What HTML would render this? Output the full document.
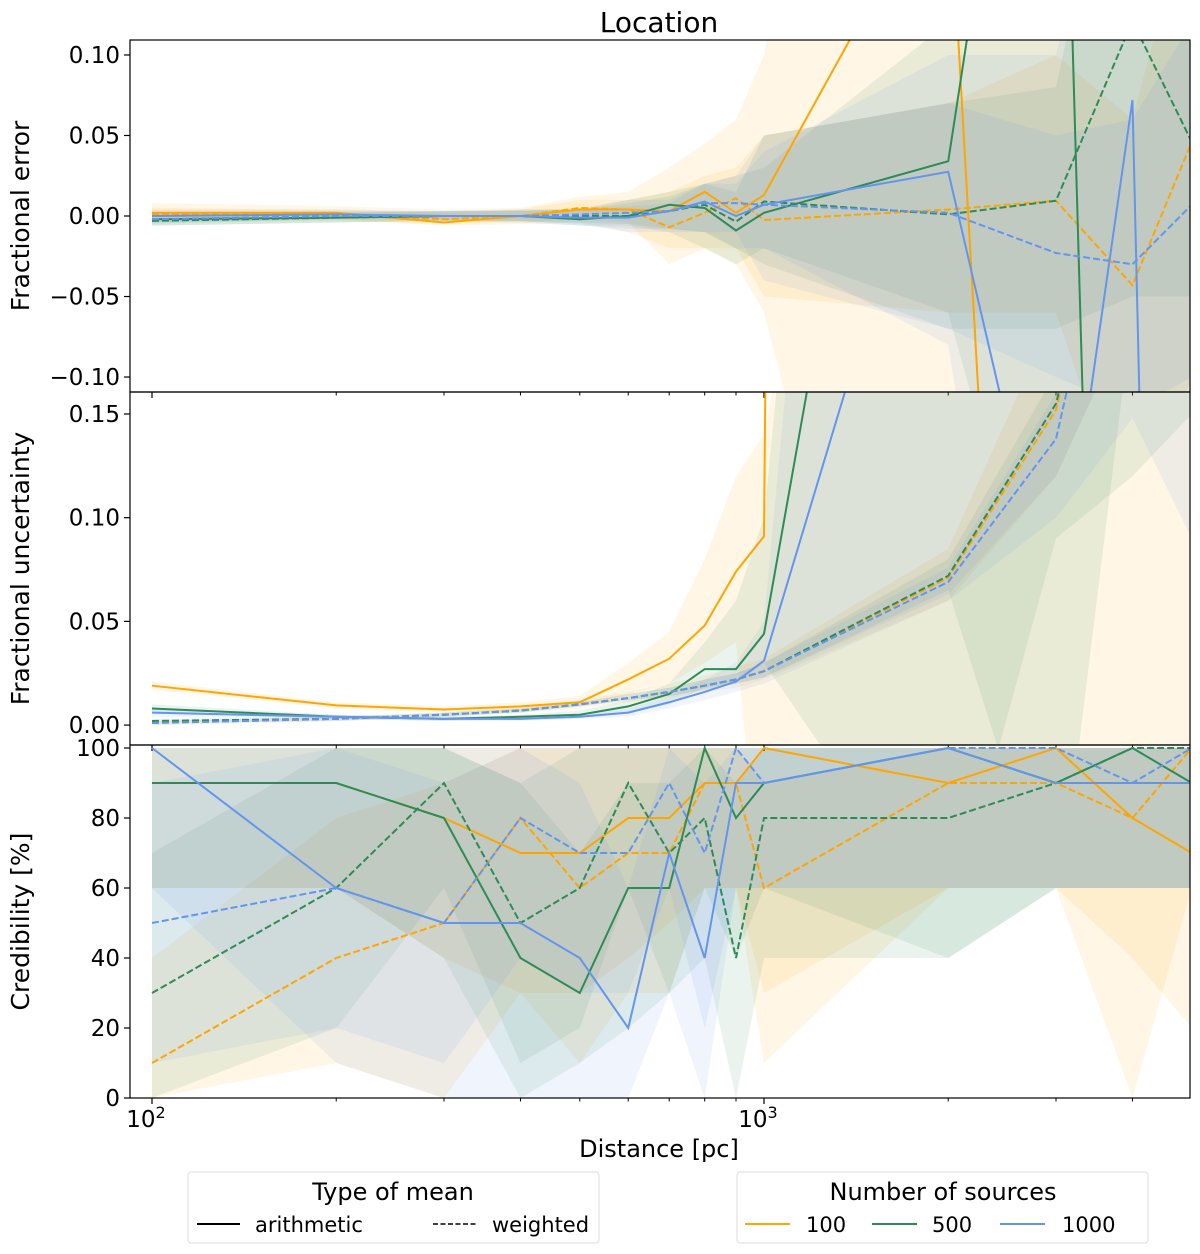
<!DOCTYPE html>
<html><head><meta charset="utf-8"><style>
html,body{margin:0;padding:0;background:#fff;width:1200px;height:1254px;overflow:hidden;}
svg{display:block;font-family:"DejaVu Sans","Liberation Sans",sans-serif;}
</style></head><body>
<svg id="chart" width="1200" height="1254" viewBox="0 0 1200 1254" xmlns="http://www.w3.org/2000/svg">
<text x="659" y="32" font-size="28" text-anchor="middle">Location</text>
<g id="panels"></g>
<text x="659" y="1157" font-size="24" text-anchor="middle">Distance [pc]</text>
<g>
<rect x="188" y="1172" width="411" height="71" fill="#fff" stroke="#ddd" rx="3"/>
<text x="393" y="1200" font-size="24" text-anchor="middle">Type of mean</text>
<line x1="197" y1="1224" x2="240" y2="1224" stroke="#000" stroke-width="2"/>
<text x="255" y="1232" font-size="21">arithmetic</text>
<line x1="433" y1="1224" x2="477" y2="1224" stroke="#000" stroke-width="1.5" stroke-dasharray="5,2.5"/>
<text x="492" y="1232" font-size="21">weighted</text>
</g>
<g>
<rect x="737" y="1172" width="411" height="71" fill="#fff" stroke="#ddd" rx="3"/>
<text x="943" y="1200" font-size="24" text-anchor="middle">Number of sources</text>
<line x1="745" y1="1224" x2="790" y2="1224" stroke="orange" stroke-width="2"/>
<text x="806" y="1232" font-size="21">100</text>
<line x1="872" y1="1224" x2="917" y2="1224" stroke="seagreen" stroke-width="2"/>
<text x="932" y="1232" font-size="21">500</text>
<line x1="1000" y1="1224" x2="1045" y2="1224" stroke="cornflowerblue" stroke-width="2"/>
<text x="1062" y="1232" font-size="21">1000</text>
</g>
</svg>
<script>
const distances=[100,200,300,400,500,600,700,800,900,1000,2000,3000,4000,5000];
// Panel 1: fractional error
const errOrangeA=[0.002,0.002,-0.004,0.000,0.004,0.004,0.003,0.015,0.002,0.013,0.22,-0.96,-0.96,-0.96];
const errOrangeW=[0.001,0.001,-0.002,0.000,0.005,0.004,-0.007,0.002,0.011,-0.0025,0.004,0.0095,-0.043,0.046];
const errGreenA=[-0.002,-0.001,0.000,0.000,-0.002,0.000,0.007,0.005,-0.009,0.002,0.034,0.47,-1.2,-1.2];
const errGreenW=[-0.003,-0.001,0.000,0.000,0.000,0.000,0.003,0.007,-0.0035,0.009,0.001,0.0095,0.121,0.046];
const errBlueA=[0.000,0.001,0.000,0.000,-0.001,-0.001,0.003,0.009,0.000,0.007,0.0275,-0.26,0.072,-1.5];
const errBlueW=[-0.002,0.000,0.000,0.000,0.001,0.002,0.003,0.008,0.008,0.007,0.002,-0.023,-0.030,0.007];
const errOrangeALo=[-0.004,-0.002,-0.006,-0.005,-0.004,-0.01,-0.02,-0.02,-0.03,-0.06,-0.5,-2,-2,-2];
const errOrangeAHi=[0.008,0.006,0.004,0.005,0.012,0.015,0.03,0.045,0.06,0.1,0.8,2,2,2];
const errOrangeWLo=[-0.004,-0.003,-0.005,-0.004,-0.002,-0.004,-0.03,-0.02,-0.02,-0.05,-0.06,-0.06,-0.2,-0.1];
const errOrangeWHi=[0.005,0.004,0.002,0.004,0.01,0.01,0.015,0.025,0.03,0.05,0.07,0.1,0.06,0.2];
const errGreenALo=[-0.006,-0.004,-0.003,-0.004,-0.006,-0.006,-0.01,-0.02,-0.03,-0.02,-0.06,-0.3,-2,-2];
const errGreenAHi=[0.002,0.003,0.003,0.004,0.004,0.01,0.015,0.02,0.025,0.03,0.12,1,1,1];
const errGreenWLo=[-0.006,-0.004,-0.003,-0.003,-0.004,-0.005,-0.008,-0.01,-0.02,-0.03,-0.07,-0.07,-0.05,-0.05];
const errGreenWHi=[0.001,0.002,0.003,0.003,0.004,0.008,0.012,0.02,0.015,0.05,0.07,0.08,0.3,0.15];
const errBlueALo=[-0.004,-0.002,-0.003,-0.003,-0.006,-0.008,-0.008,-0.01,-0.02,-0.02,-0.08,-0.5,-0.3,-2];
const errBlueAHi=[0.004,0.004,0.003,0.004,0.004,0.006,0.008,0.02,0.02,0.04,0.1,0.1,0.3,0.2];
const errBlueWLo=[-0.005,-0.002,-0.002,-0.003,-0.005,-0.01,-0.01,-0.01,-0.01,-0.04,-0.07,-0.1,-0.12,-0.1];
const errBlueWHi=[0.002,0.002,0.003,0.003,0.005,0.01,0.01,0.02,0.025,0.05,0.07,0.05,0.06,0.12];
// Panel 2: fractional uncertainty
const uncOrangeA=[0.019,0.0095,0.0075,0.009,0.011,0.022,0.032,0.048,0.074,0.091,10,10,10,10];
const uncOrangeW=[0.001,0.003,0.005,0.007,0.010,0.013,0.016,0.019,0.022,0.026,0.071,0.152,0.3,0.5];
const uncGreenA=[0.008,0.004,0.003,0.004,0.005,0.009,0.015,0.027,0.027,0.044,0.545,1,1,1];
const uncGreenW=[0.002,0.003,0.005,0.007,0.010,0.013,0.016,0.019,0.022,0.026,0.072,0.155,0.3,0.5];
const uncBlueA=[0.006,0.004,0.003,0.003,0.004,0.006,0.011,0.016,0.021,0.031,0.326,1,1,1];
const uncBlueW=[0.001,0.003,0.005,0.007,0.010,0.013,0.016,0.019,0.022,0.026,0.069,0.138,0.3,0.5];
const uncOrangeALo=[0.017,0.008,0.006,0.007,0.009,0.015,0.02,0.03,0.04,-0.1,-0.1,-0.1,-0.1,-0.1];
const uncOrangeAHi=[0.021,0.011,0.009,0.011,0.014,0.03,0.045,0.08,0.12,0.14,0.6,1,1,1];
const uncOrangeWLo=[0.0,0.002,0.004,0.006,0.008,0.011,0.013,0.016,0.018,0.022,0.06,0.12,0.2,0.3];
const uncOrangeWHi=[0.002,0.004,0.006,0.009,0.012,0.016,0.02,0.024,0.028,0.032,0.085,0.2,0.5,0.8];
const uncGreenALo=[0.006,0.003,0.002,0.003,0.004,0.006,0.01,0.018,0.02,0.03,-0.1,0.09,0.12,0.15];
const uncGreenAHi=[0.010,0.005,0.004,0.005,0.007,0.012,0.02,0.04,0.06,0.1,1,1,1,1];
const uncGreenWLo=[0.001,0.002,0.004,0.006,0.009,0.012,0.014,0.017,0.02,0.023,0.065,-0.1,0.2,0.3];
const uncGreenWHi=[0.003,0.004,0.006,0.008,0.011,0.015,0.018,0.022,0.025,0.03,0.08,0.17,0.4,0.6];
const uncBlueALo=[0.004,0.003,0.002,0.002,0.003,0.004,0.008,0.012,0.016,0.02,0.06,0.1,0.148,0.09];
const uncBlueAHi=[0.008,0.005,0.004,0.004,0.005,0.008,0.014,0.022,0.03,0.05,1,1,1,1];
const uncBlueWLo=[0.0,0.002,0.004,0.006,0.009,0.012,0.014,0.017,0.02,0.023,0.063,0.12,0.2,0.3];
const uncBlueWHi=[0.002,0.004,0.006,0.008,0.011,0.015,0.018,0.022,0.025,0.03,0.076,0.16,0.4,0.6];
// Panel 3: credibility
const credOrangeA=[90,90,80,70,70,80,80,90,90,100,90,100,80,70];
const credOrangeW=[10,40,50,80,60,70,70,90,90,60,90,90,80,100];
const credGreenA=[90,90,80,40,30,60,60,100,80,90,100,90,100,90];
const credGreenW=[30,60,90,50,60,90,70,80,40,80,80,90,100,100];
const credBlueA=[100,60,50,50,40,20,70,40,90,90,100,90,90,90];
const credBlueW=[50,60,50,80,70,70,90,70,100,90,100,100,90,100];
const credOrangeALo=[60,60,40,30,30,40,50,60,60,10,60,60,40,20];
const credOrangeAHi=[100,100,100,100,100,100,100,100,100,100,100,100,100,100];
const credOrangeWLo=[0,10,0,30,10,30,30,60,60,30,60,60,0,60];
const credOrangeWHi=[40,80,90,100,100,100,100,100,100,90,100,100,100,100];
const credGreenALo=[60,60,40,0,10,20,30,60,40,60,40,60,60,60];
const credGreenAHi=[100,100,100,90,70,90,90,100,100,100,100,100,100,100];
const credGreenWLo=[0,20,60,10,20,60,30,40,0,40,40,60,60,60];
const credGreenWHi=[70,100,100,90,100,100,100,100,90,100,100,100,100,100];
const credBlueALo=[60,10,0,0,0,0,30,0,60,60,60,60,60,60];
const credBlueAHi=[100,100,100,100,90,60,100,90,100,100,100,100,100,100];
const credBlueWLo=[10,20,10,40,30,30,60,20,60,60,60,60,60,60];
const credBlueWHi=[90,100,90,100,100,100,100,100,100,100,100,100,100,100];
const errTicks=[0.10,0.05,0.00,-0.05,-0.10];
const errTickLabels=["0.10","0.05","0.00","\u22120.05","\u22120.10"];
const uncTicks=[0.00,0.05,0.10,0.15];
const uncTickLabels=["0.00","0.05","0.10","0.15"];
const credTicks=[0,20,40,60,80,100];
const credTickLabels=["0","20","40","60","80","100"];

const NS="http://www.w3.org/2000/svg";
const X0=130,X1=1190;
function xs(d){return 764+(Math.log10(d)-3)*612;}
const COL={orange:"orange",green:"seagreen",blue:"cornflowerblue"};
const panelsG=document.getElementById('panels');
function mk(tag,attrs,parent){const e=document.createElementNS(NS,tag);for(const k in attrs)e.setAttribute(k,attrs[k]);parent.appendChild(e);return e;}

function panel(id,top,bot,vmin,vmax,series,ticks,labels,title,last){
  const ys=v=>bot-(v-vmin)/(vmax-vmin)*(bot-top);
  const g=mk('g',{},panelsG);
  
  
  const cp=mk('clipPath',{id:'cp-'+id},g);
  mk('rect',{x:X0,y:top,width:X1-X0,height:bot-top},cp);
  const pg=mk('g',{'clip-path':'url(#cp-'+id+')'},g);
  series.forEach(s=>{
    let pts=distances.map((d,i)=>xs(d)+','+ys(s.hi[i]));
    for(let i=distances.length-1;i>=0;i--)pts.push(xs(distances[i])+','+ys(s.lo[i]));
    const p=mk('polygon',{points:pts.join(' '),fill:COL[s.c],'fill-opacity':0.1,stroke:'none'},pg);
    
    
  });
  series.forEach(s=>{
    const pts=distances.map((d,i)=>xs(d)+','+ys(s.v[i])).join(' ');
    const a={points:pts,fill:'none',stroke:COL[s.c],'stroke-width':2};
    if(s.t==='weighted')a['stroke-dasharray']='7,3';
    const l=mk('polyline',a,pg);
    
    
  });
  const fr=mk('rect',{x:X0,y:top,width:X1-X0,height:bot-top,fill:'none',stroke:'#000','stroke-width':1.2},g);
  
  
  ticks.forEach((t,i)=>{
    const y=ys(t);
    mk('line',{x1:X0-6,x2:X0,y1:y,y2:y,stroke:'#000','stroke-width':1.2},g);
    const tx=mk('text',{x:X0-10,y:y+8,'font-size':23,'text-anchor':'end'},g);
    tx.textContent=labels[i];
    
    
  });
  [100,1000].forEach(d=>mk('line',{x1:xs(d),x2:xs(d),y1:bot,y2:bot+6,stroke:'#000','stroke-width':1.2},g));
  [200,300,400,500,600,700,800,900,2000,3000,4000].forEach(d=>mk('line',{x1:xs(d),x2:xs(d),y1:bot,y2:bot+3.5,stroke:'#000','stroke-width':1},g));
  const yt=mk('text',{x:0,y:0,'font-size':25,'text-anchor':'middle',transform:'translate(29,'+((top+bot)/2)+') rotate(-90)'},g);
  yt.textContent=title;
  
  
  if(last){
    [[100,'2'],[1000,'3']].forEach(([d,e])=>{
      const t=mk('text',{x:xs(d)-6,y:bot+29,'font-size':23,'text-anchor':'middle'},g);
      t.textContent='10';
      const s=mk('tspan',{dy:-9,'font-size':16},t);s.textContent=e;
      
      
    });
  }
}
panel('error',40,392,-0.1093,0.1093,[
 {c:'orange',t:'arithmetic',v:errOrangeA,lo:errOrangeALo,hi:errOrangeAHi},
 {c:'orange',t:'weighted',v:errOrangeW,lo:errOrangeWLo,hi:errOrangeWHi},
 {c:'green',t:'arithmetic',v:errGreenA,lo:errGreenALo,hi:errGreenAHi},
 {c:'green',t:'weighted',v:errGreenW,lo:errGreenWLo,hi:errGreenWHi},
 {c:'blue',t:'arithmetic',v:errBlueA,lo:errBlueALo,hi:errBlueAHi},
 {c:'blue',t:'weighted',v:errBlueW,lo:errBlueWLo,hi:errBlueWHi}],errTicks,errTickLabels,'Fractional error',false);
panel('uncertainty',392,745,-0.0096,0.1606,[
 {c:'orange',t:'arithmetic',v:uncOrangeA,lo:uncOrangeALo,hi:uncOrangeAHi},
 {c:'orange',t:'weighted',v:uncOrangeW,lo:uncOrangeWLo,hi:uncOrangeWHi},
 {c:'green',t:'arithmetic',v:uncGreenA,lo:uncGreenALo,hi:uncGreenAHi},
 {c:'green',t:'weighted',v:uncGreenW,lo:uncGreenWLo,hi:uncGreenWHi},
 {c:'blue',t:'arithmetic',v:uncBlueA,lo:uncBlueALo,hi:uncBlueAHi},
 {c:'blue',t:'weighted',v:uncBlueW,lo:uncBlueWLo,hi:uncBlueWHi}],uncTicks,uncTickLabels,'Fractional uncertainty',false);
panel('credibility',745,1098,0,100.86,[
 {c:'orange',t:'arithmetic',v:credOrangeA,lo:credOrangeALo,hi:credOrangeAHi},
 {c:'orange',t:'weighted',v:credOrangeW,lo:credOrangeWLo,hi:credOrangeWHi},
 {c:'green',t:'arithmetic',v:credGreenA,lo:credGreenALo,hi:credGreenAHi},
 {c:'green',t:'weighted',v:credGreenW,lo:credGreenWLo,hi:credGreenWHi},
 {c:'blue',t:'arithmetic',v:credBlueA,lo:credBlueALo,hi:credBlueAHi},
 {c:'blue',t:'weighted',v:credBlueW,lo:credBlueWLo,hi:credBlueWHi}],credTicks,credTickLabels,'Credibility [%]',true);
</script>
</body></html>
